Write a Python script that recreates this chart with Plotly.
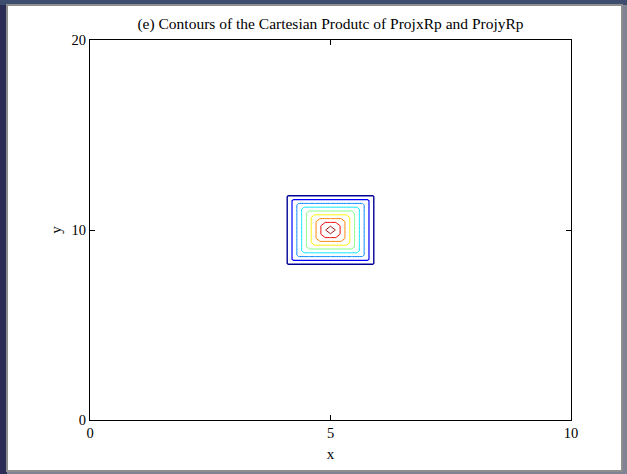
import numpy as np
import plotly.graph_objects as go

# Sampling nodes and membership grades of the two projections of Rp
x_nodes = [3.90, 4.01, 4.12, 4.23, 4.34, 4.45, 4.56, 4.67, 4.78, 4.89, 5.00,
           5.11, 5.22, 5.33, 5.44, 5.55, 5.66, 5.77, 5.88, 5.99, 6.10]
proj_x = [0.00, 0.01, 0.12, 0.23, 0.34, 0.45, 0.56, 0.67, 0.78, 0.89, 1.00,
          0.89, 0.78, 0.67, 0.56, 0.45, 0.34, 0.23, 0.12, 0.01, 0.00]

y_nodes = [7.80, 8.02, 8.24, 8.46, 8.68, 8.90, 9.12, 9.34, 9.56, 9.78, 10.00,
           10.22, 10.44, 10.66, 10.88, 11.10, 11.32, 11.54, 11.76, 11.98, 12.20]
proj_y = [0.00, 0.01, 0.12, 0.23, 0.34, 0.45, 0.56, 0.67, 0.78, 0.89, 1.00,
          0.89, 0.78, 0.67, 0.56, 0.45, 0.34, 0.23, 0.12, 0.01, 0.00]

# Contour levels and their line colours (jet map over the level range)
levels = [0.1, 0.2, 0.3, 0.4, 0.5, 0.6, 0.7, 0.8, 0.9]
level_colors = ["rgb(0,0,150)", "rgb(0,0,255)", "rgb(0,128,255)", "rgb(0,230,255)",
                "rgb(128,255,128)", "rgb(250,240,0)", "rgb(255,128,0)",
                "rgb(235,0,0)", "rgb(150,0,0)"]
level_widths = [1.4, 1.2, 1, 1, 1, 1, 1, 1, 1]

x_ticks = [0, 5, 10]
y_ticks = [0, 10, 20]

# Cartesian product of the projections (min t-norm)
z = np.minimum.outer(np.array(proj_y), np.array(proj_x))

W, H = 627, 474
ML, MR, MT, MB = 90, 56, 40, 54
PW, PH = W - ML - MR, H - MT - MB


def px_x(p):
    return (p - ML) / PW


def px_y(p):
    return (H - MB - p) / PH


fig = go.Figure()
for lev, col, lw in zip(levels, level_colors, level_widths):
    fig.add_trace(go.Contour(
        x=x_nodes, y=y_nodes, z=z,
        autocontour=False,
        contours=dict(start=lev, end=lev, size=1, coloring="none"),
        line=dict(color=col, width=lw, smoothing=0),
        showscale=False, hoverinfo="skip",
    ))

serif = "Liberation Serif, Times New Roman, serif"
axis_common = dict(
    showgrid=False, zeroline=False, showline=True, linecolor="black",
    linewidth=1, mirror="ticks", ticks="inside", ticklen=5, tickwidth=1,
    tickcolor="black", tickfont=dict(family=serif, size=14.5, color="black"),
)

fig.update_layout(
    width=W, height=H,
    margin=dict(l=ML, r=MR, t=MT, b=MB),
    paper_bgcolor="#2b2d56",
    plot_bgcolor="white",
    showlegend=False,
    title=dict(text="(e) Contours of the Cartesian Produtc of ProjxRp and ProjyRp",
               x=0.5, xref="paper", y=1 - 24 / H, yanchor="middle",
               font=dict(family=serif, size=15.5, color="black")),
    xaxis=dict(range=[0, 10], tickvals=x_ticks, ticktext=[str(v) for v in x_ticks],
               title=dict(text="x", font=dict(family=serif, size=15, color="black"),
                          standoff=8),
               **axis_common),
    yaxis=dict(range=[0, 20], tickvals=y_ticks, ticktext=[str(v) for v in y_ticks],
               title=dict(text="y", font=dict(family=serif, size=15, color="black"),
                          standoff=6),
               **axis_common),
    shapes=[
        # window strip along the top
        dict(type="rect", xref="paper", yref="paper", layer="below",
             x0=px_x(0), x1=px_x(W), y0=px_y(5), y1=px_y(0),
             fillcolor="#3e4d6d", line=dict(width=0)),
        # white figure canvas with its grey frame
        dict(type="rect", xref="paper", yref="paper", layer="below",
             x0=px_x(7), x1=px_x(622), y0=px_y(471), y1=px_y(5),
             fillcolor="white", line=dict(color="#8e8e8e", width=2)),
        # right and bottom grey window edge
        dict(type="rect", xref="paper", yref="paper", layer="below",
             x0=px_x(623), x1=px_x(W), y0=px_y(H), y1=px_y(5),
             fillcolor="#7f8393", line=dict(width=0)),
        dict(type="rect", xref="paper", yref="paper", layer="below",
             x0=px_x(7), x1=px_x(W), y0=px_y(H), y1=px_y(472),
             fillcolor="#7f8393", line=dict(width=0)),
    ],
)

fig.write_html("out.html")
